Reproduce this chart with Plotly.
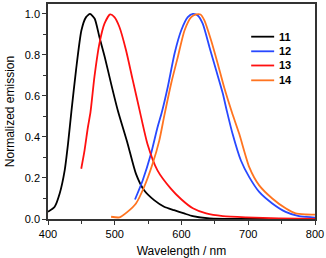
import plotly.graph_objects as go

# Series 11 (black)
wl_11 = [400, 410, 417.5, 425, 430, 435, 442, 450, 457, 463, 470, 477, 485, 494.5, 504.5, 519.4, 531.8, 544, 559, 574, 589, 604, 617, 642, 700, 800]
em_11 = [0.035, 0.06, 0.124, 0.237, 0.366, 0.522, 0.726, 0.919, 0.984, 1.0, 0.976, 0.887, 0.79, 0.66, 0.53, 0.366, 0.22, 0.14, 0.092, 0.06, 0.043, 0.027, 0.014, 0.003, 0.0, 0.0]

# Series 12 (blue)
wl_12 = [530.3, 541.8, 554.2, 564, 570.5, 579.6, 589.6, 599.5, 609.4, 617, 624.3, 631.8, 641.8, 651.8, 661.7, 668, 676.6, 689, 701.5, 716.4, 736, 756, 776, 796, 800]
em_12 = [0.095, 0.188, 0.317, 0.446, 0.52, 0.646, 0.807, 0.919, 0.984, 1.0, 0.992, 0.952, 0.839, 0.726, 0.614, 0.526, 0.414, 0.285, 0.204, 0.132, 0.076, 0.035, 0.014, 0.008, 0.007]

# Series 13 (red)
wl_13 = [449.8, 454.7, 459.7, 463.7, 469.6, 477, 484.6, 493, 499.5, 507, 516.9, 526.9, 537.5, 549, 564, 584, 600, 617, 637, 662, 697, 746, 800]
em_13 = [0.245, 0.333, 0.446, 0.522, 0.694, 0.855, 0.952, 0.997, 0.984, 0.936, 0.823, 0.678, 0.526, 0.366, 0.237, 0.148, 0.095, 0.052, 0.027, 0.014, 0.008, 0.003, 0.0]

# Series 14 (orange)
wl_14 = [494.5, 507, 519, 531.8, 544, 556.7, 566.7, 574.3, 584.6, 594.5, 604.5, 614.5, 622, 628.4, 634.3, 644.3, 654.2, 664.2, 675.5, 686.6, 701.5, 716.4, 736, 756, 771, 786, 800]
em_14 = [0.011, 0.008, 0.035, 0.076, 0.156, 0.269, 0.382, 0.505, 0.662, 0.79, 0.919, 0.984, 0.997, 0.997, 0.968, 0.871, 0.758, 0.638, 0.52, 0.414, 0.253, 0.164, 0.1, 0.052, 0.027, 0.022, 0.021]

names = ["11", "12", "13", "14"]
colors = ["#000000", "#2848ff", "#ff1010", "#ff7420"]
series = [(wl_11, em_11), (wl_12, em_12), (wl_13, em_13), (wl_14, em_14)]

x_ticks = [400, 500, 600, 700, 800]
y_ticks = [0.0, 0.2, 0.4, 0.6, 0.8, 1.0]

FONT = "Liberation Sans, Arial"

fig = go.Figure()
for name, color, (x, y) in zip(names, colors, series):
    fig.add_trace(go.Scatter(x=x, y=y, mode="lines", name=name, showlegend=False,
                             line=dict(color=color, width=1.8, shape="spline", smoothing=0.6)))

# compact legend (row spacing tighter than Plotly's built-in legend allows)
leg_x0, leg_x1, leg_tx = 0.761, 0.847, 0.858
leg_rows = [0.848, 0.780, 0.714, 0.645]
for name, color, ry in zip(names, colors, leg_rows):
    fig.add_shape(type="line", xref="paper", yref="paper", x0=leg_x0, x1=leg_x1, y0=ry, y1=ry,
                  line=dict(color=color, width=1.8))
    fig.add_annotation(xref="paper", yref="paper", x=leg_tx, y=ry, text=f"<b>{name}</b>",
                       showarrow=False, xanchor="left", yanchor="middle",
                       font=dict(family=FONT, size=11, color="#000"))

axis_common = dict(showline=True, linecolor="#333333", linewidth=1.5, mirror=True,
                   ticks="outside", ticklen=4, tickwidth=1, tickcolor="#333333",
                   showgrid=False, zeroline=False,
                   tickfont=dict(family=FONT, size=11, color="#000"))

fig.update_layout(
    width=326, height=258,
    margin=dict(l=48, r=10, t=2, b=39),
    paper_bgcolor="white", plot_bgcolor="white",
    xaxis=dict(range=[400, 800], tickvals=x_ticks, ticktext=[str(v) for v in x_ticks],
               minor=dict(dtick=50, tick0=400, ticks="outside", ticklen=3, tickcolor="#333333"),
               title=dict(text="Wavelength / nm", standoff=8,
                          font=dict(family=FONT, size=12, color="#000")),
               **axis_common),
    yaxis=dict(range=[0, 1.048], tickvals=y_ticks, ticktext=[f"{v:.1f}" for v in y_ticks],
               minor=dict(dtick=0.1, tick0=0, ticks="outside", ticklen=3, tickcolor="#333333"),
               title=dict(text="Normalized emission", standoff=8,
                          font=dict(family=FONT, size=12, color="#000")),
               **axis_common),
    showlegend=False,
)

fig.write_html("out.html", config={"displayModeBar": False},
               post_script="document.body.style.margin='0';")
